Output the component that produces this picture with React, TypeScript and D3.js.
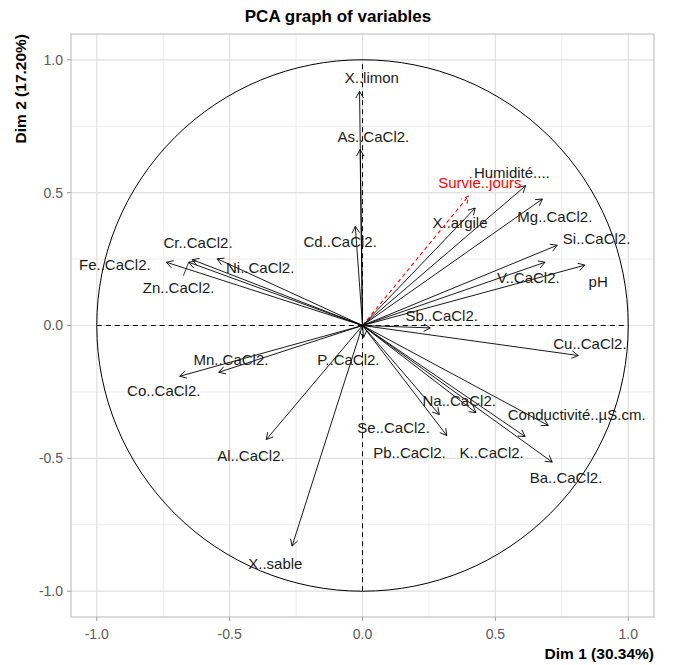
import React from "react";
import * as d3 from "d3";

const variables = [
  "X..limon", "As..CaCl2.", "Cd..CaCl2.", "Humidité....", "Survie..jours", "X..argile",
  "Mg..CaCl2.", "Si..CaCl2.", "V..CaCl2.", "pH", "Sb..CaCl2.", "Cu..CaCl2.",
  "Conductivité..µS.cm.", "Ba..CaCl2.", "K..CaCl2.", "Na..CaCl2.", "Pb..CaCl2.", "Se..CaCl2.",
  "P..CaCl2.", "Al..CaCl2.", "X..sable", "Co..CaCl2.", "Mn..CaCl2.", "Zn..CaCl2.",
  "Fe..CaCl2.", "Cr..CaCl2.", "Ni..CaCl2.",
];
const dim1 = [
  -0.011, -0.009, -0.027, 0.614, 0.398, 0.424,
  0.677, 0.733, 0.687, 0.837, 0.255, 0.812,
  0.699, 0.714, 0.612, 0.427, 0.317, 0.289,
  0.004, -0.362, -0.265, -0.688, -0.541, -0.654,
  -0.738, -0.641, -0.547,
];
const dim2 = [
  0.881, 0.662, 0.373, 0.526, 0.486, 0.442,
  0.476, 0.302, 0.238, 0.227, -0.009, -0.113,
  -0.376, -0.514, -0.418, -0.328, -0.414, -0.335,
  -0.045, -0.429, -0.830, -0.191, -0.176, 0.238,
  0.238, 0.248, 0.251,
];
// repelled label positions (data units)
const labelDim1 = [
  0.035, 0.041, -0.084, 0.562, 0.442, 0.367,
  0.724, 0.881, 0.624, 0.887, 0.298, 0.856,
  0.806, 0.766, 0.486, 0.364, 0.177, 0.117,
  -0.053, -0.420, -0.328, -0.748, -0.495, -0.692,
  -0.932, -0.619, -0.385,
];
const labelDim2 = [
  0.931, 0.709, 0.317, 0.574, 0.536, 0.386,
  0.411, 0.326, 0.179, 0.164, 0.035, -0.069,
  -0.335, -0.573, -0.479, -0.285, -0.479, -0.385,
  -0.128, -0.491, -0.896, -0.247, -0.130, 0.142,
  0.229, 0.311, 0.219,
];
const supplementary = ["Survie..jours"];
const repelSegments = ["Zn..CaCl2."];
const majorTicks = [-1, -0.5, 0, 0.5, 1];
const minorTicks = [-0.75, -0.25, 0.25, 0.75];
const titleText = "PCA graph of variables";
const xTitle = "Dim 1 (30.34%)";
const yTitle = "Dim 2 (17.20%)";

const W = 673;
const H = 665;
const panel = { left: 71, right: 654, top: 34, bottom: 617 };
const LIM = 1.097;
const FONT = "'Liberation Sans', Arial, sans-serif";

export default function App() {
  const x = d3.scaleLinear().domain([-LIM, LIM]).range([panel.left, panel.right]);
  const y = d3.scaleLinear().domain([-LIM, LIM]).range([panel.bottom, panel.top]);
  const fmt = (v: number) => d3.format(".1f")(v).replace("\u2212", "-");
  const r = x(1) - x(0);
  const headLen = 7.5;
  const headAng = Math.PI / 6;

  const arrows = variables.map((name, i) => {
    const ox = x(0), oy = y(0);
    const tx = x(dim1[i]), ty = y(dim2[i]);
    const th = Math.atan2(ty - oy, tx - ox);
    const h1 = [tx - headLen * Math.cos(th - headAng), ty - headLen * Math.sin(th - headAng)];
    const h2 = [tx - headLen * Math.cos(th + headAng), ty - headLen * Math.sin(th + headAng)];
    const sup = supplementary.includes(name);
    return (
      <g key={name}>
        <line x1={ox} y1={oy} x2={tx} y2={ty}
          stroke={sup ? "#ff0000" : "#000"} strokeWidth={sup ? 1.1 : 0.9}
          strokeDasharray={sup ? "4,3" : undefined} />
        <path d={`M${h1[0]},${h1[1]}L${tx},${ty}L${h2[0]},${h2[1]}`}
          fill="none" stroke={sup ? "#ff0000" : "#000"} strokeWidth={sup ? 1.1 : 0.9}
          strokeDasharray={sup ? "4,3" : undefined} />
      </g>
    );
  });

  const labels = variables.map((name, i) => {
    const sup = supplementary.includes(name);
    const lx = x(labelDim1[i]), ly = y(labelDim2[i]);
    let seg = null;
    if (repelSegments.includes(name)) {
      const px = x(dim1[i]), py = y(dim2[i]);
      const d = Math.hypot(px - lx, py - ly);
      const t = 13 / d;
      seg = <line x1={lx + (px - lx) * t} y1={ly + (py - ly) * t} x2={px} y2={py} stroke="#000" strokeWidth={0.8} />;
    }
    return (
      <g key={"l" + name}>
        {seg}
        <text x={lx} y={ly} dy="0.35em" textAnchor="middle" fontSize={15}
          fontFamily={FONT} fill={sup ? "#ff0000" : "#1a1a1a"}>{name}</text>
      </g>
    );
  });

  return (
    <svg width={W} height={H} style={{ position: "absolute", left: 0, top: 0, background: "#fff" }}>
      <rect x={0} y={0} width={W} height={H} fill="#fff" />
      {minorTicks.map((t) => (
        <g key={"mn" + t}>
          <line x1={x(t)} x2={x(t)} y1={panel.top} y2={panel.bottom} stroke="#ececec" strokeWidth={1} />
          <line y1={y(t)} y2={y(t)} x1={panel.left} x2={panel.right} stroke="#ececec" strokeWidth={1} />
        </g>
      ))}
      {majorTicks.map((t) => (
        <g key={"mj" + t}>
          <line x1={x(t)} x2={x(t)} y1={panel.top} y2={panel.bottom} stroke="#e0e0e0" strokeWidth={1.2} />
          <line y1={y(t)} y2={y(t)} x1={panel.left} x2={panel.right} stroke="#e0e0e0" strokeWidth={1.2} />
        </g>
      ))}
      <rect x={panel.left} y={panel.top} width={panel.right - panel.left} height={panel.bottom - panel.top}
        fill="none" stroke="#c4c4c4" strokeWidth={1.2} />
      {majorTicks.map((t) => (
        <g key={"tk" + t}>
          <line x1={x(t)} x2={x(t)} y1={panel.bottom} y2={panel.bottom + 4} stroke="#999" strokeWidth={1} />
          <text x={x(t)} y={panel.bottom + 17} dy="0.35em" textAnchor="middle" fontSize={14}
            fontFamily={FONT} fill="#5a5a5a">{fmt(t)}</text>
          <line y1={y(t)} y2={y(t)} x1={panel.left - 4} x2={panel.left} stroke="#999" strokeWidth={1} />
          <text x={panel.left - 8} y={y(t)} dy="0.35em" textAnchor="end" fontSize={14}
            fontFamily={FONT} fill="#5a5a5a">{fmt(t)}</text>
        </g>
      ))}
      <circle cx={x(0)} cy={y(0)} r={r} fill="none" stroke="#000" strokeWidth={1} />
      <line x1={x(-1)} x2={x(1)} y1={y(0)} y2={y(0)} stroke="#000" strokeWidth={1} strokeDasharray="5,4" />
      <line x1={x(0)} x2={x(0)} y1={y(-1)} y2={y(1)} stroke="#000" strokeWidth={1} strokeDasharray="5,4" />
      {arrows}
      {labels}
      <text x={338} y={22} textAnchor="middle" fontSize={17} fontWeight="bold" fontFamily={FONT} fill="#000">{titleText}</text>
      <text x={panel.right} y={659} textAnchor="end" fontSize={15.5} fontWeight="bold" fontFamily={FONT} fill="#000">{xTitle}</text>
      <text transform={`translate(26,${panel.top}) rotate(-90)`} textAnchor="end" fontSize={15.5} fontWeight="bold" fontFamily={FONT} fill="#000">{yTitle}</text>
    </svg>
  );
}
